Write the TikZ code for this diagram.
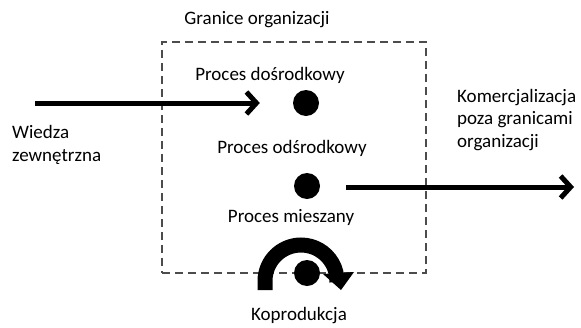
\documentclass[tikz,border=0pt]{standalone}
\usepackage{fontspec}
\setmainfont{Carlito}
\usetikzlibrary{arrows.meta}
\begin{document}
\begin{tikzpicture}[x=1pt,y=-1pt,
  lbl/.style={font=\fontsize{19}{22.5}\selectfont, inner sep=0pt, align=left},
  dot/.style={circle, fill=black, minimum size=26pt, inner sep=0pt},
  arr/.style={line width=5pt, -{Straight Barb[length=10pt,width=22pt,line width=5pt]}},
  bnd/.style={draw=black!70, line width=2pt, dash pattern=on 8pt off 5pt}
]
\useasboundingbox (0,0) rectangle (581,327);
\node[bnd, minimum width=264pt, minimum height=231pt, inner sep=0pt] (box) at (294,157.5) {};
\node[lbl] (title) at (257,20) {Granice organizacji};
\node[lbl] (t1) at (270,75) {Proces dośrodkowy};
\node[lbl] (t2) at (292,148) {Proces odśrodkowy};
\node[lbl] (t3) at (291,217) {Proces mieszany};
\node[lbl] (t4) at (299,316) {Koprodukcja};
\node[lbl, anchor=west] (wz) at (12,145) {Wiedza\\zewnętrzna};
\node[lbl, anchor=west] (kom) at (457,120) {Komercjalizacja\\poza granicami\\organizacji};
\node[dot] (d1) at (306,103) {};
\node[dot] (d2) at (307,186) {};
\node[dot] (d3) at (307,273) {};
\coordinate (win) at (35,103);
\coordinate (wout) at (574,187);
\draw[arr, shorten >=33pt] (win) -- (d1.west |- win);
\draw[arr, shorten <=26pt] (d2.east |- wout) -- (wout);
\draw[line width=15pt]
  ([shift={(-42,17)}]d3.center) -- ([shift={(-42,8)}]d3.center)
  arc[start angle=180, end angle=-2, radius=36pt];
\fill ([shift={(16,1)}]d3.center) -- ([shift={(47,-1)}]d3.center)
  -- ([shift={(34,17)}]d3.center) -- cycle;
\end{tikzpicture}
\end{document}
